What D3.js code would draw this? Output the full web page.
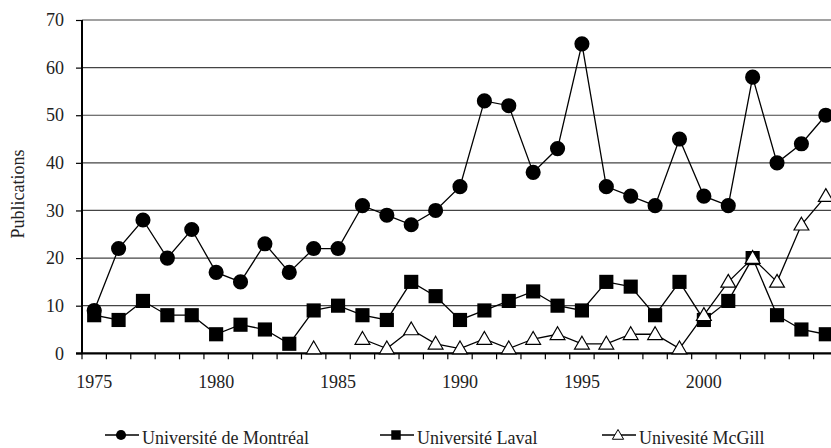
<!DOCTYPE html>
<html><head><meta charset="utf-8">
<script src="https://cdn.jsdelivr.net/npm/d3@7"></script>
<style>body{margin:0;background:#fff}svg{display:block}</style>
</head><body><svg id="c" width="831" height="448"></svg>
<script>
const years = d3.range(1975, 2006);
const montreal = [9,22,28,20,26,17,15,23,17,22,22,31,29,27,30,35,53,52,38,43,65,35,33,31,45,33,31,58,40,44,50];
const laval = [8,7,11,8,8,4,6,5,2,9,10,8,7,15,12,7,9,11,13,10,9,15,14,8,15,7,11,20,8,5,4];
const mcgill = [null,null,null,null,null,null,null,null,null,1,null,3,1,5,2,1,3,1,3,4,2,2,4,4,1,8,15,20,15,27,33];
const yTicks = [0,10,20,30,40,50,60,70];
const xLabels = [1975,1980,1985,1990,1995,2000];
const seriesNames = ["Université de Montréal","Université Laval","Univesité McGill"];

const FONT = "'Liberation Serif', 'DejaVu Serif', serif";
const svg = d3.select("#c");
const L = 82, R = 838, T = 20, B = 353.3;
const x = d3.scaleBand().domain(years).range([L, R]);
const y = d3.scaleLinear().domain([0, 70]).range([B, T]);
const cx = d => x(d) + x.bandwidth() / 2;

// gridlines
svg.append("g").selectAll("line").data(yTicks.filter(v => v > 0)).join("line")
  .attr("x1", L).attr("x2", R).attr("y1", d => y(d)).attr("y2", d => y(d))
  .attr("stroke", "#444").attr("stroke-width", 1.2);

// y axis
const ya = svg.append("g").attr("transform", `translate(${L},0)`)
  .call(d3.axisLeft(y).tickValues(yTicks).tickSize(6).tickPadding(12));
ya.select(".domain").attr("stroke", "#000").attr("stroke-width", 2).attr("d", `M0,${T}V${B}`);
ya.selectAll(".tick line").attr("stroke", "#000").attr("stroke-width", 1.2);
ya.selectAll("text").attr("font-family", FONT).attr("font-size", 18).attr("fill", "#222");

// x axis line & ticks at band edges
const edges = years.map(v => x(v)).concat([R]);
svg.append("g").selectAll("line").data(edges).join("line")
  .attr("x1", d => d).attr("x2", d => d).attr("y1", B).attr("y2", B + 6)
  .attr("stroke", "#000").attr("stroke-width", 1.2);
svg.append("line").attr("x1", L - 6).attr("x2", R).attr("y1", B).attr("y2", B)
  .attr("stroke", "#000").attr("stroke-width", 2.2);

const xa = svg.append("g").attr("transform", `translate(0,${B})`)
  .call(d3.axisBottom(x).tickValues(xLabels).tickSize(0).tickPadding(22));
xa.select(".domain").remove();
xa.selectAll("text").attr("font-family", FONT).attr("font-size", 18).attr("fill", "#222");

// axis title
svg.append("text").attr("transform", "translate(24,194) rotate(-90)")
  .attr("text-anchor", "middle").attr("font-family", FONT).attr("font-size", 18)
  .attr("fill", "#222").text("Publications");

// series
const line = d3.line().defined(d => d.v != null).x(d => cx(d.year)).y(d => y(d.v));
function series(vals) { return years.map((yr, i) => ({year: yr, v: vals[i]})); }
const all = [montreal, laval, mcgill].map(series);

const sym = [d3.symbol().type(d3.symbolCircle).size(180),
             d3.symbol().type(d3.symbolSquare).size(200),
             d3.symbol().type(d3.symbolTriangle).size(95)];
const fills = ["#000", "#000", "#fff"];

all.forEach((s, k) => {
  const g = svg.append("g");
  g.append("path").attr("d", line(s)).attr("fill", "none").attr("stroke", "#000").attr("stroke-width", 1.3);
  g.selectAll("path.m").data(s.filter(d => d.v != null)).join("path").attr("class", "m")
    .attr("d", sym[k]).attr("transform", d => `translate(${cx(d.year)},${y(d.v) + (k === 2 ? 1 : 0)})`)
    .attr("fill", fills[k]).attr("stroke", "#000").attr("stroke-width", k === 2 ? 1.2 : 0);
});

// legend
const legX = [105, 380, 602];
const legSym = [d3.symbol().type(d3.symbolCircle).size(80),
                d3.symbol().type(d3.symbolSquare).size(90),
                d3.symbol().type(d3.symbolTriangle).size(55)];
const ly = 435;
seriesNames.forEach((name, k) => {
  const g = svg.append("g").attr("transform", `translate(${legX[k]},${ly})`);
  g.append("line").attr("x1", 0).attr("x2", 34).attr("y1", 0).attr("y2", 0).attr("stroke", "#000").attr("stroke-width", 1.5);
  g.append("path").attr("d", legSym[k]).attr("transform", `translate(16,${k === 2 ? 1 : 0})`)
    .attr("fill", fills[k]).attr("stroke", "#000").attr("stroke-width", k === 2 ? 1 : 0);
  g.append("text").attr("x", 37).attr("y", 9).attr("font-family", FONT).attr("font-size", 18)
    .attr("fill", "#222").text(name);
});
</script></body></html>
